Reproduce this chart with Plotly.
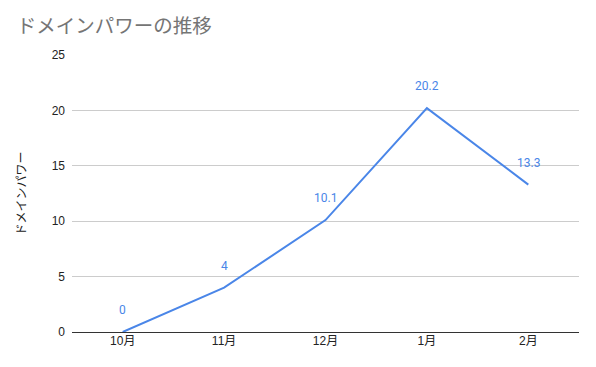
import plotly.graph_objects as go

months = ["10月", "11月", "12月", "1月", "2月"]
domain_power = [0, 4, 10.1, 20.2, 13.3]
y_ticks = [0, 5, 10, 15, 20, 25]

font_family = "Roboto, 'Noto Sans CJK JP', sans-serif"
tick_family = "Arial, 'Liberation Sans', 'Noto Sans CJK JP', sans-serif"
line_color = "#4a86e8"

fig = go.Figure()
fig.add_trace(go.Scatter(
    x=months, y=domain_power, mode="lines",
    line=dict(color=line_color, width=2),
    hoverinfo="x+y", showlegend=False,
))

for m, v in zip(months, domain_power):
    fig.add_annotation(
        x=m, y=v, text=str(v), showarrow=False, yshift=22,
        font=dict(family=font_family, size=12, color=line_color),
    )

fig.update_layout(
    width=596, height=367,
    margin=dict(l=72, r=17, t=55, b=35),
    paper_bgcolor="white", plot_bgcolor="white",
    font=dict(family=font_family, size=12, color="#222222"),
    title=dict(text="ドメインパワーの推移", x=0.028, xref="container", xanchor="left",
               y=0.93, yref="container", yanchor="middle",
               font=dict(family="'Noto Sans CJK JP', sans-serif", size=19.5, color="#757575")),
    xaxis=dict(type="category", range=[-0.5, 4.5], showgrid=False,
               showline=False, ticks="", tickfont=dict(family=tick_family, size=12, color="#222222")),
    yaxis=dict(range=[0, 25], tickvals=y_ticks, showgrid=True, gridcolor="#cccccc",
               gridwidth=1, zeroline=True, zerolinecolor="#333333", zerolinewidth=1,
               ticks="", ticklabelstandoff=6, tickfont=dict(family=tick_family, size=12, color="#222222"),
               title=dict(text="ドメインパワー", standoff=22,
                          font=dict(family="'Noto Sans CJK JP', sans-serif", size=12, color="#222222"))),
)

fig.write_html("out.html", config={"displayModeBar": False},
               post_script="document.body.style.margin='0';")
